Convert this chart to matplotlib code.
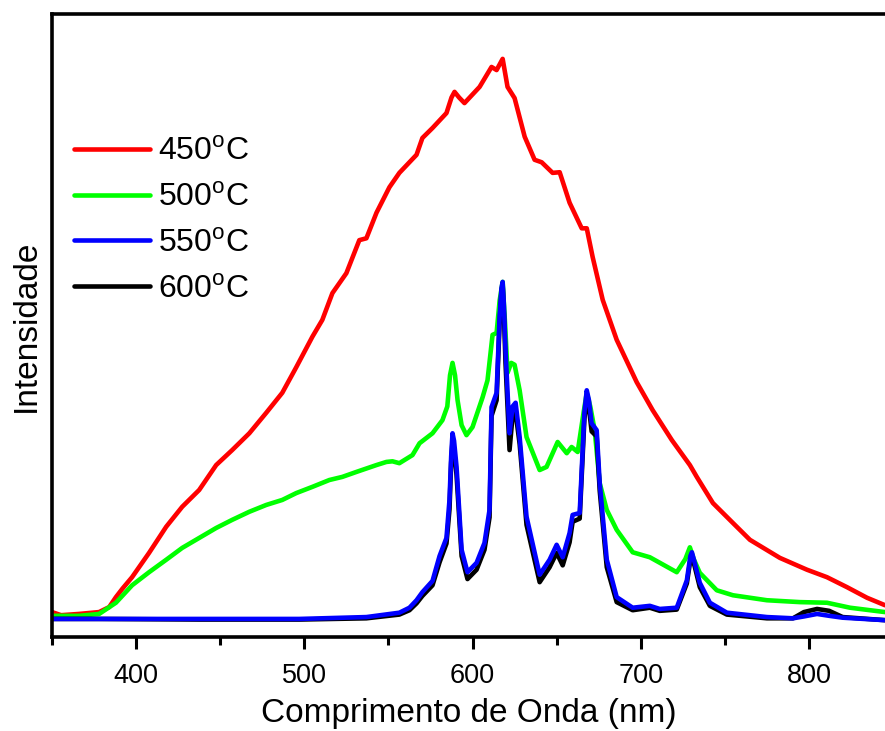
import numpy as np
import matplotlib
matplotlib.use("Agg")
import matplotlib.pyplot as plt
from matplotlib.ticker import MultipleLocator

plt.rcParams['font.family'] = ['Liberation Sans', 'DejaVu Sans']
plt.rcParams['mathtext.fontset'] = 'custom'
plt.rcParams['mathtext.rm'] = 'Liberation Sans'

# espectros de emissao (nm, intensidade em u.a.)
wl_450 = [350.0, 355.4, 366.0, 378.0, 384.0, 388.0, 392.0, 397.6, 407.7, 417.9, 427.4, 437.5,
          447.6, 457.1, 467.3, 477.4, 486.9, 495.2, 504.8, 510.7, 516.7, 525.0, 532.7, 536.9,
          542.9, 550.6, 556.5, 566.7, 570.2, 576.2, 584.5, 587.5, 589.3, 592.0, 595.2, 604.2,
          611.3, 614.3, 617.9, 620.8, 625.0, 631.0, 636.9, 641.1, 647.6, 651.8, 657.7, 664.9,
          667.9, 671.4, 677.4, 685.7, 697.6, 707.1, 718.5, 729.2, 733.3, 742.9, 754.8, 764.9,
          782.7, 798.8, 810.7, 822.6, 834.5, 845.2]
int_450 = [40, 35, 37, 40, 48, 64, 78, 96, 135, 177, 209, 236,
           276, 300, 327, 360, 392, 433, 482, 509, 552, 584, 637, 640,
           681, 722, 745, 774, 801, 817, 841, 866, 875, 866, 857, 883,
           915, 910, 928, 883, 865, 803, 766, 762, 745, 746, 697, 656,
           656, 610, 541, 477, 409, 364, 316, 276, 257, 215, 183, 156,
           127, 108, 96, 80, 63, 51]

wl_500 = [350.0, 366.0, 378.0, 388.0, 397.6, 407.7, 417.9, 427.4, 437.5, 447.6, 457.1, 467.3,
          477.4, 486.9, 495.2, 504.8, 514.9, 522.6, 531.0, 542.9, 548.8, 552.4, 556.5, 564.3,
          568.5, 576.2, 582.1, 585.0, 586.6, 588.1, 589.6, 591.1, 593.5, 596.4, 600.0, 606.0,
          608.9, 611.9, 614.3, 616.1, 617.9, 619.4, 620.8, 623.0, 625.0, 628.0, 632.1, 639.9,
          644.0, 650.6, 656.0, 658.9, 662.5, 666.0, 667.9, 670.0, 672.6, 675.6, 679.8, 685.7,
          695.2, 705.4, 721.4, 726.5, 729.2, 731.5, 735.1, 745.2, 754.8, 775.0, 794.6, 810.7,
          824.4, 845.2]
int_500 = [34, 34, 37, 55, 83, 104, 124, 143, 159, 175, 188, 201,
           212, 220, 231, 241, 252, 257, 265, 276, 281, 282, 279, 292,
           311, 327, 348, 370, 420, 440, 420, 380, 340, 324, 337, 385,
           412, 485, 488, 540, 570, 500, 424, 440, 437, 396, 321, 268,
           273, 313, 295, 305, 297, 360, 392, 370, 332, 247, 204, 172,
           136, 128, 104, 125, 144, 125, 103, 75, 67, 59, 56, 55,
           47, 40]

wl_550 = [350.0, 378.0, 437.5, 497.0, 536.9, 556.5, 562.5, 566.7, 570.2, 576.2, 580.4, 584.5,
          586.3, 587.3, 588.1, 589.0, 590.5, 593.5, 597.0, 602.4, 607.1, 610.1, 611.3, 614.3,
          616.1, 617.2, 617.9, 618.7, 619.6, 622.0, 623.8, 625.6, 628.0, 632.1, 639.9, 645.8,
          650.0, 653.6, 657.7, 659.5, 663.7, 666.5, 667.9, 669.2, 670.8, 673.8, 675.6, 679.8,
          685.7, 695.2, 705.4, 711.3, 721.4, 727.4, 729.5, 730.4, 732.0, 735.1, 741.1, 751.2,
          775.0, 790.5, 797.0, 804.8, 812.0, 820.0, 845.2]
int_550 = [29, 29, 29, 29, 32, 39, 47, 59, 72, 90, 130, 159,
           220, 290, 327, 315, 273, 140, 104, 119, 151, 204, 369, 392,
           514, 560, 570, 530, 461, 327, 370, 376, 321, 193, 100, 124,
           148, 128, 167, 196, 199, 360, 396, 380, 343, 332, 247, 124,
           64, 47, 50, 45, 47, 91, 130, 136, 120, 87, 55, 39,
           32, 30, 33, 37, 34, 31, 27]

wl_600 = [350.0, 378.0, 437.5, 497.0, 536.9, 556.5, 562.5, 566.7, 570.2, 576.2, 580.4, 584.5,
          586.3, 587.3, 588.1, 589.0, 590.5, 593.5, 597.0, 602.4, 607.1, 610.1, 611.3, 614.3,
          616.1, 617.2, 617.9, 618.7, 619.6, 622.0, 623.8, 625.6, 628.0, 632.1, 639.9, 645.8,
          650.0, 653.6, 657.7, 659.5, 663.7, 666.5, 667.9, 669.2, 670.8, 673.8, 675.6, 679.8,
          685.7, 695.2, 705.4, 711.3, 721.4, 727.4, 729.5, 730.4, 732.0, 735.1, 741.1, 751.2,
          775.0, 790.5, 797.0, 804.8, 812.0, 820.0, 845.2]
int_600 = [29, 29, 28, 28, 30, 36, 43, 54, 66, 83, 120, 150,
           205, 280, 315, 300, 260, 130, 93, 108, 140, 192, 355, 380,
           505, 555, 565, 515, 440, 300, 355, 360, 310, 180, 88, 112,
           135, 115, 152, 185, 190, 350, 385, 368, 330, 322, 235, 112,
           56, 43, 47, 42, 44, 86, 124, 130, 114, 80, 50, 36,
           30, 30, 40, 45, 42, 32, 27]

labels = [r'450$^{\mathrm{o}}$C', r'500$^{\mathrm{o}}$C',
          r'550$^{\mathrm{o}}$C', r'600$^{\mathrm{o}}$C']
cores = ['#ff0000', '#00ff00', '#0000ff', '#000000']

fig = plt.figure(figsize=(8.85, 7.31), dpi=100)
ax = fig.add_axes([52 / 885, 1 - 637 / 731, 1 - 52 / 885, (637 - 14) / 731])

lw = 3.3
kw = dict(lw=lw, solid_joinstyle='round', solid_capstyle='round')
l450, = ax.plot(wl_450, int_450, color=cores[0], **kw)
l500, = ax.plot(wl_500, int_500, color=cores[1], **kw)
l600, = ax.plot(wl_600, int_600, color=cores[3], **kw)
l550, = ax.plot(wl_550, int_550, color=cores[2], **kw)

ax.set_xlim(350, 845.2)
ax.set_ylim(0, 1000)

for s in ['left', 'bottom', 'top']:
    ax.spines[s].set_linewidth(2.6)
ax.spines['right'].set_visible(False)

ax.xaxis.set_major_locator(MultipleLocator(100))
ax.xaxis.set_minor_locator(MultipleLocator(50))
ax.tick_params(axis='x', which='major', direction='out', length=8.5, width=2.2,
               labelsize=19.5, pad=10)
ax.tick_params(axis='x', which='minor', direction='out', length=5.5, width=2.2)
ax.set_yticks([])

ax.set_xlabel('Comprimento de Onda (nm)', fontsize=24, labelpad=7)
ax.set_ylabel('Intensidade', fontsize=24, labelpad=7)

leg = ax.legend([l450, l500, l550, l600], labels, loc='upper left',
                bbox_to_anchor=(0.026, 0.803), frameon=False, fontsize=23,
                handlelength=2.4, handletextpad=0.25, labelspacing=0.5,
                borderpad=0, borderaxespad=0)

fig.savefig('out.png', dpi=100)
